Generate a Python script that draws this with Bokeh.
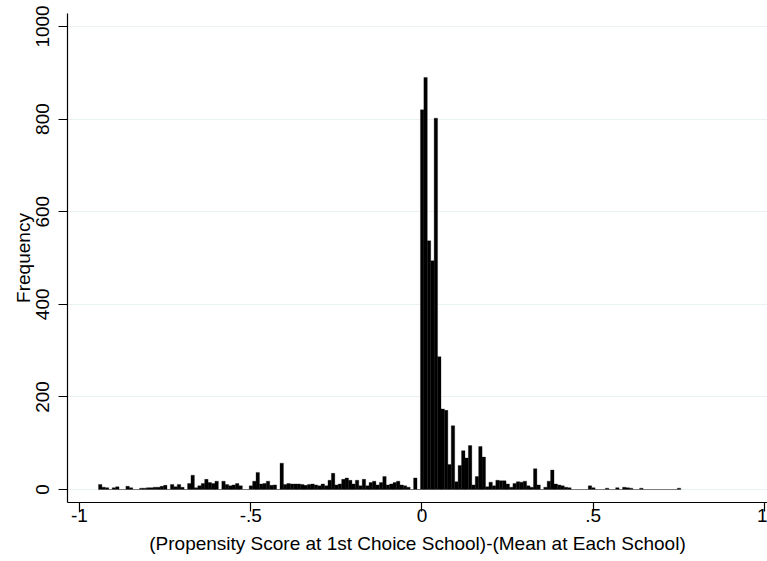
import numpy as np
from bokeh.plotting import figure
from bokeh.models import FixedTicker, Range1d, ColumnDataSource
from bokeh.embed import file_html
from bokeh.resources import INLINE

# Histogram data: bins of width 0.01 starting at -0.9445
bin_start = -0.9445
bin_width = 0.01
counts = [
    # -0.9445 .. -0.0045 (94 bins)
    11, 5, 4, 0, 4, 6, 0, 0, 7, 4,
    0, 0, 3, 3, 4, 4, 5, 5, 7, 9,
    0, 11, 6, 11, 5, 0, 13, 31, 4, 8,
    13, 22, 15, 13, 18, 0, 18, 11, 8, 10,
    13, 8, 0, 0, 8, 18, 37, 12, 13, 18,
    9, 10, 0, 57, 11, 13, 12, 12, 12, 11,
    9, 11, 12, 10, 8, 12, 8, 20, 35, 10,
    12, 22, 25, 20, 12, 20, 8, 22, 8, 15,
    18, 10, 15, 28, 10, 12, 15, 18, 10, 8,
    5, 0, 25, 0,
    # -0.0045 .. 0.7555 (76 bins)
    820, 890, 537, 494, 802, 287, 174, 171, 54, 138,
    17, 52, 84, 68, 95, 10, 28, 93, 70, 6,
    16, 8, 20, 19, 19, 12, 5, 13, 17, 16,
    18, 8, 5, 45, 10, 0, 5, 18, 42, 12,
    10, 8, 5, 4, 0, 0, 0, 0, 0, 8,
    4, 0, 0, 0, 3, 0, 0, 4, 0, 5,
    4, 3, 0, 0, 3, 0, 0, 0, 0, 0,
    0, 0, 0, 0, 0, 3,
]

x_ticks = [-1, -0.5, 0, 0.5, 1]
x_tick_labels = {-1: "-1", -0.5: "-.5", 0: "0", 0.5: ".5", 1: "1"}
y_ticks = [0, 200, 400, 600, 800, 1000]

edges = bin_start + bin_width * np.arange(len(counts) + 1)
src = ColumnDataSource(dict(left=edges[:-1], right=edges[1:], top=counts,
                            bottom=[0] * len(counts)))

FONT = "Liberation Sans"

p = figure(width=767, height=561, output_backend="svg", toolbar_location=None,
           x_range=Range1d(-1.035, 1.0088), y_range=Range1d(-28, 1028),
           min_border_left=67, min_border_right=0, min_border_top=13,
           min_border_bottom=59)
p.outline_line_color = None
p.background_fill_color = "white"
p.border_fill_color = "white"

p.quad(left="left", right="right", top="top", bottom="bottom", source=src,
       fill_color="black", line_color="black", line_width=0.3)

p.xgrid.grid_line_color = None
p.ygrid.grid_line_color = "#EAF2F3"
p.ygrid.grid_line_width = 1.2
p.ygrid.ticker = FixedTicker(ticks=y_ticks)

p.xaxis.ticker = FixedTicker(ticks=x_ticks)
p.xaxis.major_label_overrides = x_tick_labels
p.yaxis.ticker = FixedTicker(ticks=y_ticks)
p.yaxis.major_label_orientation = "vertical"

for ax in (p.xaxis[0], p.yaxis[0]):
    ax.axis_line_color = "black"
    ax.axis_line_width = 1.2
    ax.major_tick_line_color = "black"
    ax.major_tick_line_width = 1.2
    ax.major_tick_out = 9
    ax.major_tick_in = 0
    ax.minor_tick_line_color = None
    ax.major_label_text_font = FONT
    ax.major_label_text_font_size = "19px"
    ax.major_label_text_color = "black"
    ax.axis_label_text_font = FONT
    ax.axis_label_text_font_size = "19px"
    ax.axis_label_text_font_style = "normal"
    ax.axis_label_text_color = "black"

p.xaxis.axis_label = "(Propensity Score at 1st Choice School)-(Mean at Each School)"
p.yaxis.axis_label = "Frequency"
p.xaxis.major_label_standoff = -3
p.yaxis.major_label_standoff = 9
p.xaxis.axis_label_standoff = 8
p.yaxis.axis_label_standoff = 0

open("out.html", "w").write(file_html(p, INLINE))
